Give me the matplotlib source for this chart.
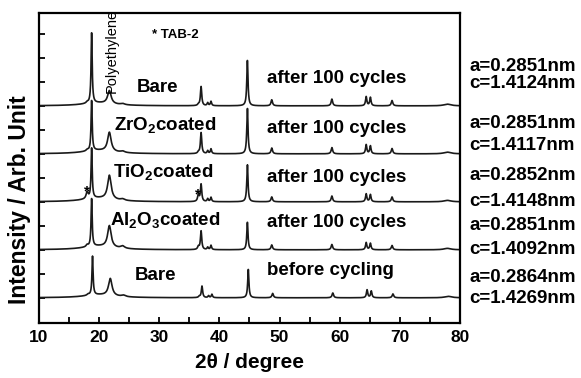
import numpy as np
import matplotlib
matplotlib.use('Agg')
import matplotlib.pyplot as plt
from matplotlib.ticker import MultipleLocator

plt.rcParams['font.family'] = ['Liberation Sans', 'DejaVu Sans']
plt.rcParams['font.weight'] = 'bold'
plt.rcParams['mathtext.default'] = 'regular'

# peak positions (2theta, deg) and half widths
peak_pos = [18.0, 18.75, 19.8, 21.7, 23.9, 36.5, 36.95, 38.05, 38.6,
            44.65, 48.7, 58.7, 64.4, 65.1, 68.7, 77.9]
peak_hw = [0.2, 0.11, 3.0, 0.35, 0.4, 0.15, 0.13, 0.12, 0.12,
           0.12, 0.15, 0.15, 0.13, 0.13, 0.15, 0.7]

# peak heights per pattern (1 unit = one y tick)
h_bare_after = [0.05, 2.95, 0.12, 0.55, 0.05, 0.05, 0.8, 0.12, 0.18,
                1.9, 0.25, 0.28, 0.38, 0.35, 0.22, 0.07]
h_zro2 = [0.05, 2.1, 0.14, 0.8, 0.06, 0.06, 0.88, 0.12, 0.2,
          1.9, 0.24, 0.26, 0.38, 0.33, 0.22, 0.07]
h_tio2 = [0.28, 2.1, 0.15, 1.0, 0.06, 0.28, 0.72, 0.12, 0.18,
          1.55, 0.2, 0.24, 0.33, 0.3, 0.2, 0.06]
h_al2o3 = [0.08, 2.0, 0.15, 0.9, 0.1, 0.12, 0.78, 0.1, 0.18,
           1.15, 0.2, 0.22, 0.3, 0.27, 0.18, 0.06]
h_bare_before = [0.05, 1.62, 0.12, 0.72, 0.06, 0.05, 0.48, 0.08, 0.14,
                 1.18, 0.18, 0.2, 0.33, 0.28, 0.16, 0.06]
shift_before = 0.15  # pristine pattern sits slightly to higher angle

patterns = [h_bare_before, h_al2o3, h_tio2, h_zro2, h_bare_after]
offsets = [1, 3, 5, 7, 9]
shifts = [shift_before, 0, 0, 0, 0]

sample_labels = ['Bare', 'Al$_2$O$_3$coated', 'TiO$_2$coated', 'ZrO$_2$coated', 'Bare']
sample_x = [26.0, 21.8, 22.3, 22.5, 26.3]
sample_y = [1.74, 4.03, 6.03, 7.99, 9.57]
state_labels = ['before cycling', 'after 100 cycles', 'after 100 cycles',
                'after 100 cycles', 'after 100 cycles']
state_y = [1.95, 3.95, 5.83, 7.87, 9.95]

a_labels = ['a=0.2864nm', 'a=0.2851nm', 'a=0.2852nm', 'a=0.2851nm', 'a=0.2851nm']
c_labels = ['c=1.4269nm', 'c=1.4092nm', 'c=1.4148nm', 'c=1.4117nm', 'c=1.4124nm']
a_py = [282, 230, 180, 128, 71]
c_py = [303, 254, 206, 150, 88]

W, H = 581, 378
fig = plt.figure(figsize=(W/100, H/100), dpi=100)
ax = fig.add_axes([39/W, 1-323/H, (460-39)/W, (323-13)/H])

x = np.arange(10, 80.001, 0.02)
for hs, off, sh in zip(patterns, offsets, shifts):
    y = np.zeros_like(x)
    for p, w, h in zip(peak_pos, peak_hw, hs):
        y += h / (1 + ((x - p - sh) / w)**2)
    ax.plot(x, y + off, color='#1a1a1a', lw=1.2)

for lab, sx, sy in zip(sample_labels, sample_x, sample_y):
    ax.text(sx, sy, lab, fontsize=13.5, fontweight='bold', va='baseline')
for lab, sy in zip(state_labels, state_y):
    ax.text(47.9, sy, lab, fontsize=13.5, fontweight='bold', va='baseline')

ax.text(22.1, 9.55, 'Polyethylene', rotation=90, fontsize=10.5,
        fontweight='normal', ha='center', va='bottom', clip_on=False)
ax.text(28.8, 11.83, '* TAB-2', fontsize=9.5, fontweight='bold', va='baseline')
ax.text(17.9, 5.45, '*', fontsize=11, fontweight='bold', ha='center', va='center')
ax.text(36.4, 5.3, '*', fontsize=11, fontweight='bold', ha='center', va='center')

for a_lab, c_lab, ay, cy in zip(a_labels, c_labels, a_py, c_py):
    fig.text(469/W, 1-ay/H, a_lab, fontsize=13.5, fontweight='bold', va='baseline')
    fig.text(469/W, 1-cy/H, c_lab, fontsize=13.5, fontweight='bold', va='baseline')

ax.set_xlim(10, 80)
ax.set_ylim(-0.05, 12.87)
ax.xaxis.set_major_locator(MultipleLocator(10))
ax.xaxis.set_minor_locator(MultipleLocator(5))
ax.set_yticks(np.arange(1, 13))
ax.set_yticklabels([])
ax.tick_params(axis='both', which='both', direction='in', length=4, width=1.3,
               top=False, right=False)
ax.tick_params(axis='x', labelsize=12.5, pad=5)
for lab in ax.get_xticklabels():
    lab.set_fontweight('bold')
for s in ax.spines.values():
    s.set_linewidth(1.6)

ax.set_xlabel('2θ / degree', fontsize=15, fontweight='bold', labelpad=6)
fig.text(20/W, 1-200/H, 'Intensity / Arb. Unit', rotation=90, fontsize=16.5,
         fontweight='bold', ha='center', va='center')

fig.savefig('out.png', dpi=100)
